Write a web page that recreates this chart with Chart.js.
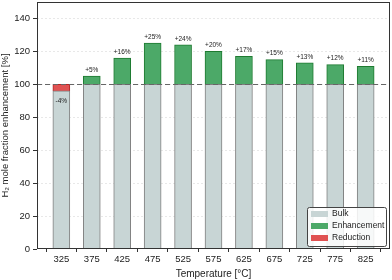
<!DOCTYPE html>
<html><head><meta charset="utf-8">
<script src="https://cdn.jsdelivr.net/npm/chart.js@4.4.0/dist/chart.umd.min.js"></script>
<style>html,body{margin:0;padding:0;background:#fff}#wrap{width:392px;height:280px}</style>
</head><body><div id="wrap"><canvas id="c" width="392" height="280"></canvas></div>
<script>
const temps = [325,375,425,475,525,575,625,675,725,775,825];
const bulk = [96,100,100,100,100,100,100,100,100,100,100];
const enhancement = [0,5,16,25,24,20,17,15,13,12,11];
const reduction = [4,0,0,0,0,0,0,0,0,0,0];
const pctLabels = ['-4%','+5%','+16%','+25%','+24%','+20%','+17%','+15%','+13%','+12%','+11%'];
const yTicks = [0,20,40,60,80,100,120,140];

const FONT = 'Liberation Sans, Arial, sans-serif';
const pts = arr => temps.map((t,i)=>({x:t,y:arr[i]}));

const overlay = {
  id:'overlay',
  beforeDatasetsDraw(chart){
    const {ctx, chartArea:a, scales:{y}} = chart;
    ctx.save();
    ctx.strokeStyle='rgba(0,0,0,0.09)';ctx.lineWidth=1;ctx.setLineDash([2,2]);
    yTicks.forEach(v=>{ if(v===0) return; const py=Math.round(y.getPixelForValue(v))+0.5;
      ctx.beginPath();ctx.moveTo(a.left,py);ctx.lineTo(a.right,py);ctx.stroke();});
    ctx.restore();
  },
  afterDatasetsDraw(chart){
    const {ctx, chartArea:a, scales:{x,y}} = chart;
    ctx.save();
    const py=Math.round(y.getPixelForValue(100))+0.5;
    ctx.strokeStyle='#666';ctx.lineWidth=1;ctx.setLineDash([5,3]);
    ctx.beginPath();ctx.moveTo(a.left,py);ctx.lineTo(a.right,py);ctx.stroke();
    ctx.setLineDash([]);
    ctx.fillStyle='#222';ctx.font='6.5px '+FONT;ctx.textAlign='center';ctx.textBaseline='middle';
    temps.forEach((t,i)=>{
      const px=x.getPixelForValue(t);
      if(reduction[i]>0){ ctx.fillText(pctLabels[i],px,y.getPixelForValue(bulk[i])+10); }
      else { ctx.fillText(pctLabels[i],px,y.getPixelForValue(bulk[i]+enhancement[i])-6); }
    });
    ctx.strokeStyle='#333';ctx.lineWidth=1;
    ctx.strokeRect(a.left+0.5,a.top+0.5,a.right-a.left-1,a.bottom-a.top-1);
    const lx=307, ly=207, lw=79, lh=39;
    ctx.fillStyle='rgba(255,255,255,0.85)';
    ctx.beginPath();ctx.roundRect(lx+0.5,ly+0.5,lw,lh,2);ctx.fill();
    ctx.strokeStyle='#444';ctx.stroke();
    ctx.font='8.5px '+FONT;ctx.textAlign='left';
    chart.data.datasets.forEach((ds,i)=>{
      const ry=ly+7+i*12;
      ctx.fillStyle=ds.backgroundColor;ctx.fillRect(lx+4,ry-3,17,6);
      ctx.fillStyle='#222';ctx.fillText(ds.label,lx+25,ry);
    });
    ctx.restore();
  }
};

new Chart(document.getElementById('c'),{
  type:'bar',
  data:{datasets:[
    {label:'Bulk',data:pts(bulk),backgroundColor:'#c8d5d5',borderColor:'#808080',borderWidth:1,barThickness:17,stack:'s'},
    {label:'Enhancement',data:pts(enhancement),backgroundColor:'#4ca968',borderColor:'#1e7a30',borderWidth:1,barThickness:17,stack:'s'},
    {label:'Reduction',data:pts(reduction),backgroundColor:'#e05252',borderColor:'#b52626',borderWidth:1,barThickness:17,stack:'s'}
  ]},
  options:{
    responsive:false,animation:false,
    layout:{padding:{top:2,right:2,left:0,bottom:0}},
    plugins:{legend:{display:false},tooltip:{enabled:false}},
    scales:{
      x:{type:'linear',min:285,max:865,stacked:true,offset:false,
        afterBuildTicks:s=>{s.ticks=temps.map(v=>({value:v}));},
        afterFit:s=>{s.height=31;s.paddingLeft=0;s.paddingRight=0;},
        grid:{display:true,drawOnChartArea:false,drawTicks:true,tickLength:3,color:'#333'},
        border:{display:false},
        ticks:{font:{family:FONT,size:9.5},color:'#222',padding:2,maxRotation:0,autoSkip:false,callback:v=>String(v)},
        title:{display:true,text:'Temperature [°C]',font:{family:FONT,size:10},color:'#222',padding:{top:1,bottom:0}}},
      y:{min:0,max:150,stacked:true,
        afterBuildTicks:s=>{s.ticks=yTicks.map(v=>({value:v}));},
        afterFit:s=>{s.width=37;s.paddingTop=0;s.paddingBottom=0;},
        grid:{display:true,drawOnChartArea:false,drawTicks:true,tickLength:4,color:'#333'},
        border:{display:false},
        ticks:{font:{family:FONT,size:9.5},color:'#222',padding:3},
        title:{display:true,text:'H₂ mole fraction enhancement [%]',font:{family:FONT,size:9.5},color:'#222',padding:{top:0,bottom:1}}}
    }
  },
  plugins:[overlay]
});
</script></body></html>
